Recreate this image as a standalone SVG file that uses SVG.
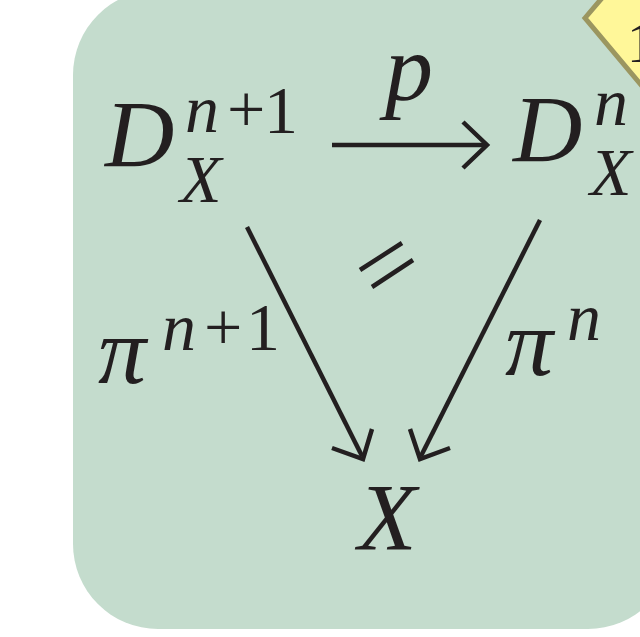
<svg xmlns="http://www.w3.org/2000/svg" width="640" height="637" viewBox="0 0 640 637">
<style>
.m{font-family:"Liberation Serif","Times New Roman",serif;font-style:italic;fill:#231f20}
.u{font-family:"Liberation Serif","Times New Roman",serif;font-style:normal;fill:#231f20}
.big{font-size:96px}
.sm{font-size:68px}
.ln{stroke:#231f20;stroke-width:4.5;fill:none;stroke-linecap:butt;stroke-linejoin:miter}
</style>
<rect width="640" height="637" fill="#ffffff"/>
<g id="panel">
<rect x="73" y="-10" width="600" height="639" rx="85" ry="85" fill="#c4dccd"/>
</g>
<g id="badge">
<polygon points="585,18 660,-70 720,30 662,110" fill="#fff799" stroke="#9b9660" stroke-width="5"/>
<text class="u" x="627" y="62" font-size="56">1</text>
</g>
<g id="node-Dn1">
<text class="m big" x="105" y="167">D</text>
<text class="m sm" x="185" y="132">n</text>
<text class="u sm" x="227" y="132">+</text>
<text class="u sm" x="264" y="133">1</text>
<text class="m sm" x="180" y="202">X</text>
</g>
<g id="node-Dn">
<text class="m big" x="513" y="162">D</text>
<text class="m sm" x="594" y="125">n</text>
<text class="m sm" x="590" y="195">X</text>
</g>
<g id="node-X">
<text class="m big" x="358" y="550">X</text>
</g>
<g id="connectors">
<path class="ln" d="M332,145 H485"/>
<polyline class="ln" points="463,122 487,145 463,168"/>
<path class="ln" d="M247,227 L362,456"/>
<polyline class="ln" points="332,448 363,459 372,429"/>
<path class="ln" d="M540,220 L421,456"/>
<polyline class="ln" points="410,429 420,459 450,448"/>
<path class="ln" d="M360,270 L402,243 M372,287 L413,260"/>
</g>
<g id="labels">
<text class="m big" x="385" y="100">p</text>
<text class="m big" x="98" y="383">π</text>
<text class="m sm" x="162" y="350">n</text>
<text class="u sm" x="204" y="350">+</text>
<text class="u sm" x="246" y="350">1</text>
<text class="m big" x="505" y="375">π</text>
<text class="m sm" x="567" y="340">n</text>
</g>
</svg>
